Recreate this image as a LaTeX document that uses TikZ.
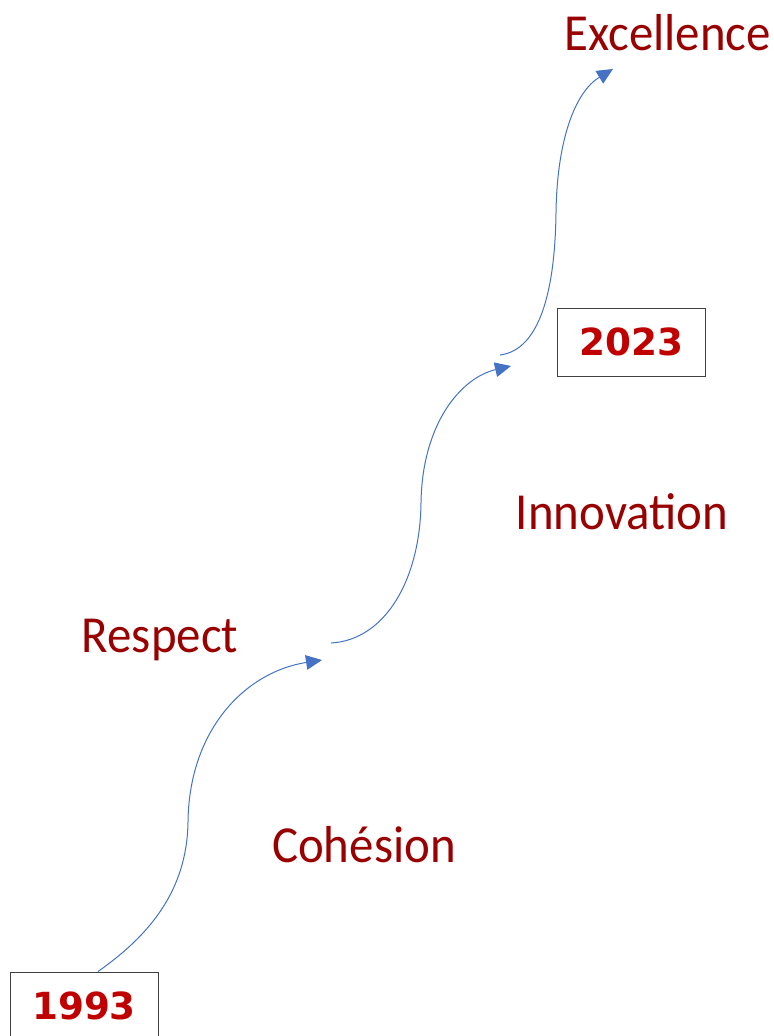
\documentclass[tikz,border=0pt]{standalone}
\usepackage{fontspec}
\usepackage{xcolor}
\usetikzlibrary{arrows.meta}
\newfontfamily\handfont[FakeStretch=0.94]{Carlito}
\newfontfamily\yearfont{DejaVu Sans}
\definecolor{val}{RGB}{153, 0, 0}
\definecolor{yr}{RGB}{192, 0, 0}
\definecolor{arr}{RGB}{68, 114, 196}
\definecolor{frm}{RGB}{64, 64, 64}

\begin{document}
\begin{tikzpicture}[x=0.75pt, y=-0.75pt,
    yearbox/.style={draw=frm, line width=0.75pt, text=yr, minimum width=111pt, minimum height=51pt, font=\yearfont\bfseries\fontsize{28}{30}\selectfont},
    value/.style={text=val, anchor=base, inner sep=0pt, font=\handfont\fontsize{39}{42}\selectfont},
    path/.style={draw=arr, line width=0.75pt, -{Triangle[length=12pt, width=11pt]}}]
      \useasboundingbox (0, 0) rectangle (774, 1036);
      \clip (0, 0) rectangle (774, 1036);
      \node[yearbox] (y1993) at (84, 1006) {1993};
      \node[yearbox] (y2023) at (631, 342) {2023};
      \node[value] (cohesion) at (364, 862) {Cohésion};
      \node[value] (respect) at (160, 652) {Respect};
      \node[value] (innovation) at (622, 529) {Innovation};
      \node[value, anchor=base east] (excellence) at (771, 50) {Excellence};
      \coordinate (s1) at (y1993.north -| 98, 0);
      \coordinate (e1) at (322, 660);
      \coordinate (s2) at (331, 643);
      \coordinate (e2) at (511, 366);
      \coordinate (s3) at (500, 355);
      \coordinate (e3) at (613, 69);
      \draw[path] (s1) .. controls (150, 935) and (187, 890) .. (188, 822) .. controls (189, 730) and (245, 672) .. (e1);
      \draw[path] (s2) .. controls (385, 640) and (420, 580) .. (421, 503) .. controls (422, 425) and (460, 378) .. (e2);
      \draw[path] (s3) .. controls (540, 350) and (555, 290) .. (556, 213) .. controls (557, 140) and (575, 92) .. (e3);
    \end{tikzpicture}
\end{document}
